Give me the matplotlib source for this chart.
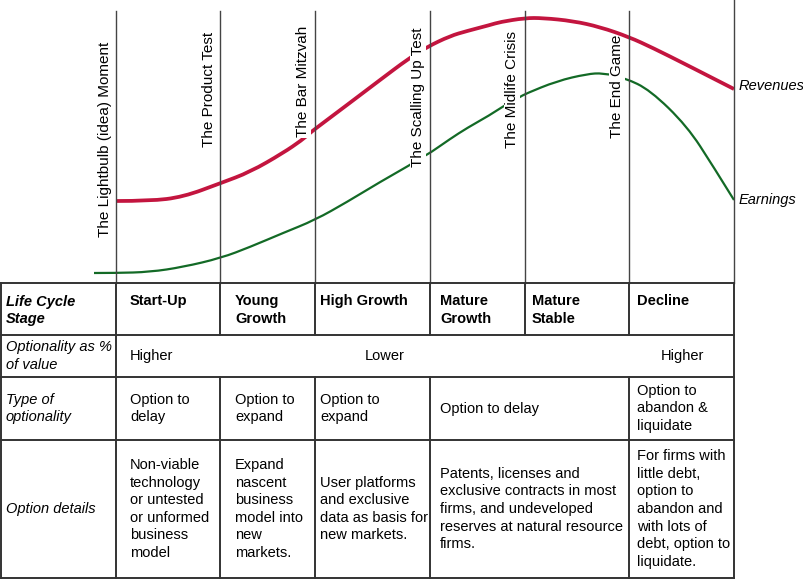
import matplotlib.pyplot as plt
from matplotlib.path import Path
from matplotlib.patches import PathPatch

plt.rcParams['font.family'] = ['Liberation Sans', 'DejaVu Sans']

# curve samples (pixel space, y grows downward)
rev_x = [116, 150, 183, 221, 250, 283, 302, 310, 315, 347, 380, 408, 427, 450,
         467, 490, 500, 525, 543, 573, 600, 629, 653, 687, 734]
rev_y = [201, 201, 197, 183, 172, 153, 140, 133, 129, 105, 80, 59, 47, 36,
         31, 25, 22, 18, 18, 21, 27, 37, 48, 65, 89]

earn_x = [94, 116, 150, 183, 221, 250, 283, 315, 347, 380, 410, 424, 430, 450,
          467, 490, 502, 520, 525, 557, 587, 603, 625, 650, 687, 713, 734]
earn_y = [273, 273, 272, 267, 258, 247, 233, 220, 202, 182, 165, 156, 153, 139,
          128, 115, 107, 97, 94, 81, 74, 73, 78, 90, 126, 166, 200]

milestones = ['The Lightbulb (idea) Moment', 'The Product Test', 'The Bar Mitzvah',
              'The Scalling Up Test', 'The Midlife Crisis', 'The End Game']
milestone_x = [105, 209, 303, 418, 512, 617]
milestone_bottom = [237, 147, 137, 167, 148, 138]

row_labels = ['Life Cycle\nStage', 'Optionality as %\nof value',
              'Type of\noptionality', 'Option details']
stages = ['Start-Up', 'Young\nGrowth', 'High Growth', 'Mature\nGrowth',
          'Mature\nStable', 'Decline']

# row 3 and 4 cells: (first column, last column, text)
option_types = [(1, 1, 'Option to\ndelay'), (2, 2, 'Option to\nexpand'),
                (3, 3, 'Option to\nexpand'), (4, 5, 'Option to delay'),
                (6, 6, 'Option to\nabandon &\nliquidate')]
option_details = [
    (1, 1, 'Non-viable\ntechnology\nor untested\nor unformed\nbusiness\nmodel'),
    (2, 2, 'Expand\nnascent\nbusiness\nmodel into\nnew\nmarkets.'),
    (3, 3, 'User platforms\nand exclusive\ndata as basis for\nnew markets.'),
    (4, 5, 'Patents, licenses and\nexclusive contracts in most\nfirms, and undeveloped\nreserves at natural resource\nfirms.'),
    (6, 6, 'For firms with\nlittle debt,\noption to\nabandon and\nwith lots of\ndebt, option to\nliquidate.'),
]

# layout
col_edges = [1, 116, 220, 315, 430, 525, 629, 734]
text_x = [6, 130, 235, 320, 440, 532, 637]
row_edges = [283, 335, 377, 440, 578]


def smooth_path(xs, ys):
    # quadratic bezier through the midpoints, sample points act as controls
    pts = list(zip(xs, ys))
    verts = [pts[0]]
    codes = [Path.MOVETO]
    for i in range(1, len(pts) - 1):
        mid = ((pts[i][0] + pts[i + 1][0]) / 2, (pts[i][1] + pts[i + 1][1]) / 2)
        if i == len(pts) - 2:
            mid = pts[-1]
        verts += [pts[i], mid]
        codes += [Path.CURVE3, Path.CURVE3]
    return Path(verts, codes)


fig = plt.figure(figsize=(8.04, 5.79), dpi=100)
ax = fig.add_axes([0, 0, 1, 1])
ax.set_xlim(0, 804)
ax.set_ylim(579, 0)
ax.axis('off')

red = '#c3153f'
green = '#136a26'
line_c = '#333333'
fs = 10.5
ls = 1.33

ax.add_patch(PathPatch(smooth_path(rev_x, rev_y), facecolor='none', edgecolor=red,
                       lw=2.7, capstyle='butt', zorder=3))
ax.add_patch(PathPatch(smooth_path(earn_x, earn_y), facecolor='none', edgecolor=green,
                       lw=1.6, capstyle='butt', zorder=2))
ax.text(739, rev_y[-1] - 3, 'Revenues', style='italic', fontsize=fs, va='center')
ax.text(739, earn_y[-1], 'Earnings', style='italic', fontsize=fs, va='center')

for name, x, yb in zip(milestones, milestone_x, milestone_bottom):
    # the last label sits under the revenue curve but over the earnings curve
    z = 2.5 if name == 'The End Game' else 3.5
    ax.text(x, yb, name, rotation=90, ha='center', va='bottom', fontsize=11,
            bbox=dict(facecolor='white', edgecolor='none', pad=1.0), zorder=z)

# vertical dividers in the chart area
for x in col_edges[1:-1]:
    ax.plot([x, x], [11, row_edges[0]], color='#444444', lw=1.0, zorder=4)
ax.plot([734, 734], [0, row_edges[0]], color='#444444', lw=1.0, zorder=4)

# table grid
for y in row_edges:
    ax.plot([col_edges[0], col_edges[-1]], [y, y], color=line_c, lw=1.4, zorder=4)
for x in [col_edges[0], col_edges[1], col_edges[-1]]:
    ax.plot([x, x], [row_edges[0], row_edges[-1]], color=line_c, lw=1.4, zorder=4)
for x in col_edges[2:-1]:
    ax.plot([x, x], [row_edges[0], row_edges[1]], color=line_c, lw=1.4, zorder=4)
for x in [220, 315, 430, 629]:
    ax.plot([x, x], [row_edges[2], row_edges[4]], color=line_c, lw=1.4, zorder=4)

# row labels
for i, lab in enumerate(row_labels):
    yc = (row_edges[i] + row_edges[i + 1]) / 2 + (1.5 if i == 0 else 0)
    ax.text(text_x[0], yc, lab, style='italic', fontsize=fs, va='center',
            weight='bold' if i == 0 else 'normal', linespacing=ls)

# stage headers
for i, st in enumerate(stages):
    ax.text(text_x[i + 1], 294, st, weight='bold', fontsize=fs, va='top',
            linespacing=ls)

# optionality row
y2 = (row_edges[1] + row_edges[2]) / 2
ax.text(text_x[1], y2, 'Higher', fontsize=fs, va='center')
ax.text(385, y2, 'Lower', fontsize=fs, va='center', ha='center')
ax.text(682, y2, 'Higher', fontsize=fs, va='center', ha='center')

for r, cells in [(2, option_types), (3, option_details)]:
    yc = (row_edges[r] + row_edges[r + 1]) / 2
    for c0, c1, txt in cells:
        ax.text(text_x[c0], yc, txt, fontsize=fs, va='center', linespacing=ls)

fig.savefig('out.png', dpi=100)
